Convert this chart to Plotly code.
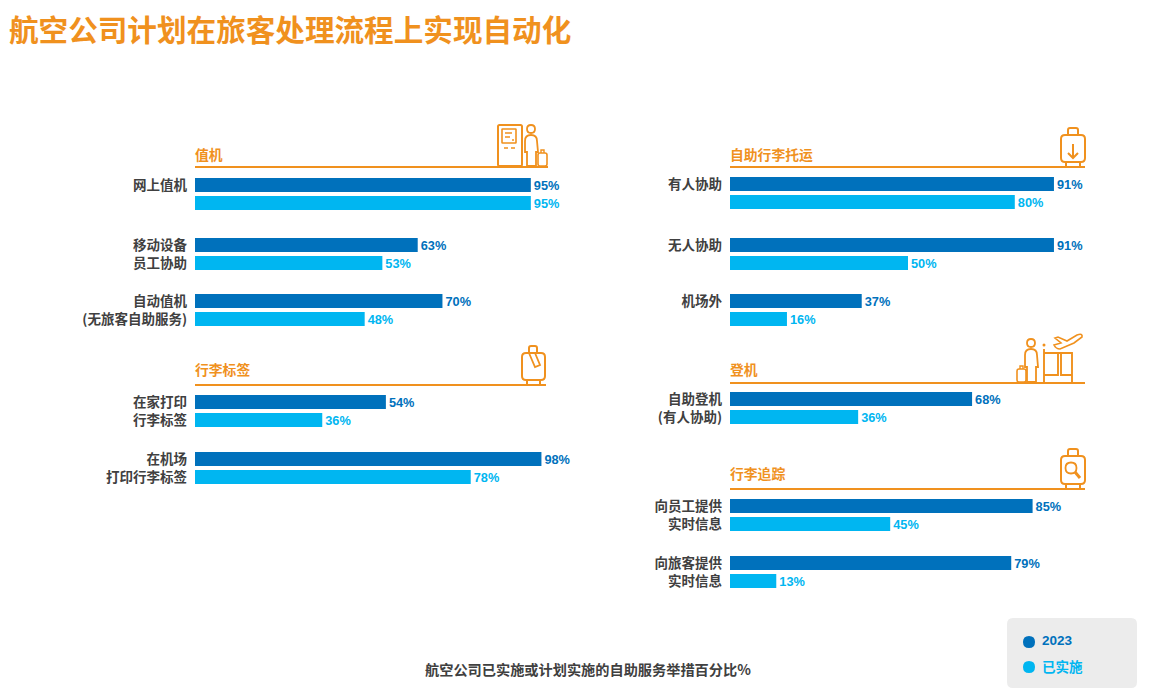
import plotly.graph_objects as go

ORANGE = '#F0911E'
DARK = '#0071BC'
LIGHT = '#00B6F1'
GREY = '#404040'
FONT = 'Noto Sans CJK SC'

# chart values, one entry per group of two bars
left_groups = [
    ['网上值机', ''],
    ['移动设备', '员工协助'],
    ['自动值机', '(无旅客自助服务)'],
    ['在家打印', '行李标签'],
    ['在机场', '打印行李标签'],
]
left_2023 = [95, 63, 70, 54, 98]
left_done = [95, 53, 48, 36, 78]

right_groups = [
    ['有人协助', ''],
    ['无人协助', ''],
    ['机场外', ''],
    ['自助登机', '(有人协助)'],
    ['向员工提供', '实时信息'],
    ['向旅客提供', '实时信息'],
]
right_2023 = [91, 91, 37, 68, 85, 79]
right_done = [80, 50, 16, 36, 45, 13]

series_names = ['2023', '已实施']

# layout, in pixels of the page. the page body has an 8px margin, so the figure is 8px smaller
PAGE_W, PAGE_H = 1160, 697
OFF = 8
TOP_M = 2
W, H = PAGE_W - OFF, PAGE_H - OFF
PLOT_H = H - TOP_M
left_tops = [178, 238, 294, 395, 452]
right_tops = [177, 238, 294, 392, 499, 556]
BAND = 18
BAR = 14

fig = go.Figure()
axis_no = [1]


def add_group(labels, v2023, vdone, top, x0, px_per_pct):
    axis_no[0] += 1
    n = axis_no[0]
    pad = (BAND - BAR) / 2
    y_top = top - pad - OFF - TOP_M
    y_bottom = y_top + 2 * BAND
    left = x0 - OFF
    for i, (name, val, col) in enumerate(zip(series_names, [v2023, vdone], [DARK, LIGHT])):
        fig.add_trace(go.Bar(
            x=[val], y=[i], orientation='h', width=BAR / BAND,
            marker_color=col, marker_line_width=0,
            text=[str(val) + '%'], textposition='outside', cliponaxis=False,
            textfont=dict(family='Liberation Sans', size=15.5, color=col, weight='bold'),
            name=name, showlegend=False, xaxis='x' + str(n), yaxis='y' + str(n),
        ))
    fig.layout['xaxis' + str(n)] = dict(
        domain=[left / W, (left + 100 * px_per_pct) / W], range=[0, 100],
        visible=False, anchor='y' + str(n), fixedrange=True)
    fig.layout['yaxis' + str(n)] = dict(
        domain=[1 - y_bottom / PLOT_H, 1 - y_top / PLOT_H], range=[1.5, -0.5],
        tickvals=[0, 1], ticktext=labels, ticks='', showline=False, showgrid=False,
        zeroline=False, anchor='x' + str(n), ticklabelstandoff=7,
        tickfont=dict(family=FONT, size=13.5, color=GREY, weight='bold'))


for i in range(len(left_groups)):
    add_group(left_groups[i], left_2023[i], left_done[i], left_tops[i], 195, 3.535)
for i in range(len(right_groups)):
    add_group(right_groups[i], right_2023[i], right_done[i], right_tops[i], 730, 3.56)

# overlay axes in page pixels, used for headers, icons and the legend box
fig.add_trace(go.Scatter(x=[], y=[], xaxis='x', yaxis='y', showlegend=False))
fig.update_layout(
    xaxis=dict(domain=[0, 1], range=[OFF, PAGE_W], visible=False, fixedrange=True),
    yaxis=dict(domain=[0, 1], range=[PAGE_H, OFF + TOP_M], visible=False, fixedrange=True),
)

shapes = []
annotations = []


def text(x, y, s, size, color, xanchor='left', family=FONT):
    annotations.append(dict(
        x=x, y=y, xref='x', yref='y', text=s, showarrow=False, xanchor=xanchor, yanchor='middle',
        xshift=-1 if xanchor == 'left' else 0, borderpad=0,
        font=dict(family=family, size=size, color=color, weight='bold')))


def path(d, width=2, color=ORANGE, fill=None):
    shapes.append(dict(type='path', path=d, xref='x', yref='y', layer='above',
                       line=dict(color=color, width=width),
                       fillcolor=fill if fill else 'rgba(0,0,0,0)'))


def rrect(x0, y0, x1, y1, r):
    return (f'M{x0 + r},{y0} L{x1 - r},{y0} Q{x1},{y0} {x1},{y0 + r} L{x1},{y1 - r} Q{x1},{y1} {x1 - r},{y1} '
            f'L{x0 + r},{y1} Q{x0},{y1} {x0},{y1 - r} L{x0},{y0 + r} Q{x0},{y0} {x0 + r},{y0} Z')


def circle(cx, cy, r):
    return (f'M{cx - r},{cy} Q{cx - r},{cy - r} {cx},{cy - r} Q{cx + r},{cy - r} {cx + r},{cy} '
            f'Q{cx + r},{cy + r} {cx},{cy + r} Q{cx - r},{cy + r} {cx - r},{cy} Z')


def suitcase(x0, y0, x1, y1):
    # body, handle, and the two small feet
    path(rrect(x0, y0 + 7, x1, y1 - 5, 4))
    path(f'M{x0 + 7},{y0 + 7} L{x0 + 7},{y0 + 2} Q{x0 + 7},{y0} {x0 + 9},{y0} L{x1 - 9},{y0} '
         f'Q{x1 - 7},{y0} {x1 - 7},{y0 + 2} L{x1 - 7},{y0 + 7}')
    path(f'M{x0 + 5},{y1 - 5} L{x0 + 5},{y1} M{x1 - 5},{y1 - 5} L{x1 - 5},{y1}')


# footer
text(588, 669, '航空公司已实施或计划实施的自助服务举措百分比%', 14.2, GREY, 'center')

# section headers
for x, y, s in [(195, 154, '值机'), (195, 369, '行李标签'), (730, 154, '自助行李托运'),
                (730, 369, '登机'), (730, 473, '行李追踪')]:
    text(x, y, s, 13.8, ORANGE)
for x0, x1, y in [(195, 548, 167), (195, 546, 385), (730, 1085, 167), (730, 1085, 383), (730, 1085, 489)]:
    path(f'M{x0},{y} L{x1},{y}', 2)

# kiosk, person and bag
path(rrect(498, 125, 522, 166, 1.5))
path(rrect(502, 129, 516, 143, 0.5), 1.6)
path('M505,133 L512,133 M505,137 L510,137 M512,140 L514,140', 1.4)
path('M504,148 L508,148 M511,148 L515,148', 1.6)
path(circle(531, 129, 4), 1.8)
path('M525,141 Q525,135 531,135 Q537,135 537,141 L538,152 L536,152 L536,166 L527,166 L527,152 L525,152 Z', 1.8)
path(rrect(538, 153, 547, 166, 2), 1.6)
path('M541,153 L541,150 L544,150 L544,153', 1.4)

# bag with tag
path(rrect(522, 353, 545, 380, 4))
path('M529,353 L529,348 Q529,346 531,346 L535,346 Q537,346 537,348 L537,353', 2)
path('M529,353 L535,367 L540,365 L535,353', 1.8)
path('M527,380 L527,385 M540,380 L540,385', 2)

# bag with down arrow
suitcase(1061, 128, 1085, 167)
path('M1073,144 L1073,158 M1068,153 L1073,158 L1078,153', 2)

# person, bag, gate and plane
path(circle(1031, 343, 4), 1.8)
path('M1025,355 Q1025,349 1031,349 Q1037,349 1037,355 L1038,367 L1036,367 L1036,382 L1027,382 L1027,367 L1025,367 Z', 1.8)
path(rrect(1017, 369, 1026, 382, 2), 1.6)
path('M1020,369 L1020,366 L1023,366 L1023,369', 1.4)
path(circle(1044, 345, 0.8), 1.4)
path('M1044,349 L1044,383 M1044,353 L1058,353 L1058,375 L1044,375', 1.9)
path('M1058,353 L1072,353 L1072,383 M1061,353 L1061,375 L1072,375', 1.9)
path('M1054,345 L1061,343 L1055,338 L1058,337 L1067,341 L1077,335 Q1083,333 1082,337 '
     'L1074,343 L1060,349 Q1056,349 1054,345 Z', 1.6)

# bag with magnifier
suitcase(1061, 449, 1085, 489)
path(circle(1071, 468, 5.5), 1.8)
path('M1075,472 L1080,478', 3)

# legend box
path(rrect(1007, 618, 1137, 688, 6), 0, '#ECECEC', '#ECECEC')
path(circle(1029, 642, 6), 0, DARK, DARK)
path(circle(1029, 667, 6), 0, LIGHT, LIGHT)
text(1042, 640, series_names[0], 13.5, DARK, family='Liberation Sans')
text(1042, 666, series_names[1], 13.5, LIGHT)

fig.update_layout(
    title=dict(text='航空公司计划在旅客处理流程上实现自动化', xref='container', x=1 / W, xanchor='left',
               yref='container', y=1 - (31 - OFF) / H, yanchor='middle',
               font=dict(family=FONT, size=29.6, color=ORANGE, weight='bold')),
    width=W, height=H, margin=dict(l=0, r=0, t=TOP_M, b=0), autosize=False,
    plot_bgcolor='white', paper_bgcolor='white', barmode='overlay',
    showlegend=False, shapes=shapes, annotations=annotations,
)

fig.write_html("out.html")
